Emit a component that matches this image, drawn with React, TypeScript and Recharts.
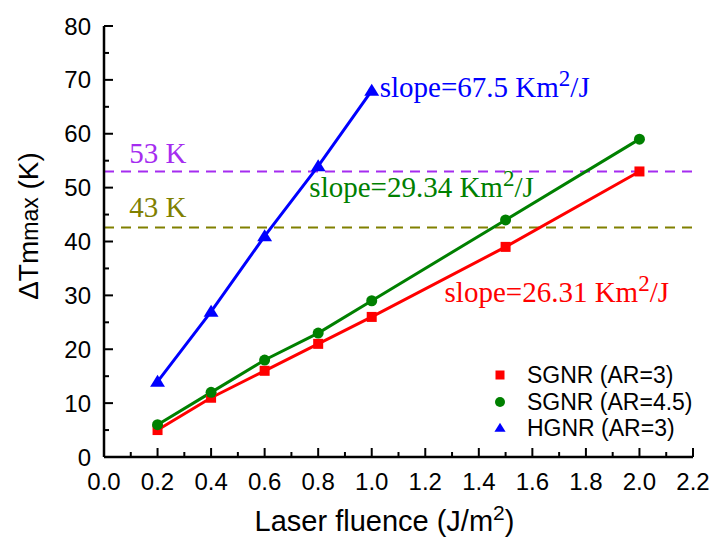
import React from 'react';
import {
  LineChart, Line, XAxis, YAxis, ReferenceLine, ReferenceDot,
} from 'recharts';

const SANS  = '"Liberation Sans", Arial, sans-serif';
const SERIF = '"Liberation Serif", "Times New Roman", serif';

// values
const SGNR3_X   = [0.2, 0.4, 0.6, 0.8, 1.0, 1.5, 2.0];
const SGNR3_Y   = [5, 11, 16, 21, 26, 39, 53];
const SGNR45_X  = [0.2, 0.4, 0.6, 0.8, 1.0, 1.5, 2.0];
const SGNR45_Y  = [6, 12, 18, 23, 29, 44, 59];
const HGNR_X    = [0.2, 0.4, 0.6, 0.8, 1.0];
const HGNR_Y    = [14, 27, 41, 54, 68];

const X_TICKS = [0, 0.1, 0.2, 0.3, 0.4, 0.5, 0.6, 0.7, 0.8, 0.9, 1.0, 1.1, 1.2, 1.3, 1.4, 1.5, 1.6, 1.7, 1.8, 1.9, 2.0, 2.1, 2.2];
const Y_TICKS = [0, 5, 10, 15, 20, 25, 30, 35, 40, 45, 50, 55, 60, 65, 70, 75, 80];

const LIMITS = [
  { y: 53,   label: '53 K', color: '#a52cf0', lx: 0.094, ly: 54.5 },
  { y: 42.6, label: '43 K', color: '#808000', lx: 0.094, ly: 44.5 },
];

const SLOPES = [
  { value: '67.5',  color: '#0000ff', x: 1.03,  y: 66.8 },
  { value: '29.34', color: '#008000', x: 0.767, y: 48.2 },
  { value: '26.31', color: '#ff0000', x: 1.272, y: 28.8 },
];

const zip = (xs: number[], ys: number[]) => xs.map((x, i) => ({ x, y: ys[i] }));

const SERIES = [
  { name: 'SGNR (AR=3)',   color: '#ff0000', shape: 'square',   data: zip(SGNR3_X, SGNR3_Y) },
  { name: 'SGNR (AR=4.5)', color: '#008000', shape: 'circle',   data: zip(SGNR45_X, SGNR45_Y) },
  { name: 'HGNR (AR=3)',   color: '#0000ff', shape: 'triangle', data: zip(HGNR_X, HGNR_Y) },
];

function Marker({ shape, cx, cy, color, s }: { shape: string; cx: number; cy: number; color: string; s: number }) {
  if (shape === 'square') return <rect x={cx - s / 2} y={cy - s / 2} width={s} height={s} fill={color} />;
  if (shape === 'circle') return <circle cx={cx} cy={cy} r={s / 2 + 0.5} fill={color} />;
  const h = s * 0.95;
  return <polygon points={`${cx},${cy - h * 0.6} ${cx + s * 0.62},${cy + h * 0.45} ${cx - s * 0.62},${cy + h * 0.45}`} fill={color} />;
}

function XTick({ x, y, payload }: any) {
  const v = payload.value;
  const major = Math.round(v * 10) % 2 === 0;
  return (
    <g>
      <line x1={x} x2={x} y1={y} y2={y - (major ? 9 : 5)} stroke="#000" strokeWidth={2} />
      {major && (
        <text x={x} y={y + 33} textAnchor="middle" fontFamily={SANS} fontSize={24} fill="#000">
          {v.toFixed(1)}
        </text>
      )}
    </g>
  );
}

function YTick({ x, y, payload }: any) {
  const v = payload.value;
  const major = v % 10 === 0;
  return (
    <g>
      <line x1={x} x2={x + (major ? 9 : 5)} y1={y} y2={y} stroke="#000" strokeWidth={2} />
      {major && (
        <text x={x - 13} y={y + 8.5} textAnchor="end" fontFamily={SANS} fontSize={24} fill="#000">
          {v}
        </text>
      )}
    </g>
  );
}

function LegendBox() {
  return (
    <div style={{ position: 'absolute', left: 490, top: 362, fontFamily: SANS, fontSize: 23, lineHeight: '26.5px', color: '#000' }}>
      {SERIES.map(s => (
        <div key={s.name} style={{ display: 'flex', alignItems: 'center', whiteSpace: 'nowrap' }}>
          <svg width={37} height={26} style={{ flex: 'none' }}>
            <Marker shape={s.shape} cx={10} cy={13} color={s.color} s={9} />
          </svg>
          <span>{s.name}</span>
        </div>
      ))}
    </div>
  );
}

export default function App() {
  return (
    <div style={{ position: 'absolute', left: 0, top: 0, width: 714, height: 537, background: '#fff' }}>
      <LineChart width={714} height={537} margin={{ top: 26, right: 21, left: 0, bottom: 0 }}>
        <XAxis
          xAxisId={0} type="number" dataKey="x" domain={[0, 2.2]} ticks={X_TICKS} interval={0}
          height={80} tickSize={0} tickMargin={0} tickLine={false} tick={<XTick />}
          axisLine={{ stroke: '#000', strokeWidth: 2.5 }}
          label={{
            content: ({ viewBox }: any) => (
              <text x={viewBox.x + viewBox.width / 2 - 14} y={531} textAnchor="middle" fontFamily={SANS} fontSize={29} fill="#000">
                Laser fluence (J/m<tspan dy={-11} fontSize={21}>2</tspan><tspan dy={11}>)</tspan>
              </text>
            ),
          }}
        />
        <XAxis xAxisId="top" orientation="top" type="number" domain={[0, 2.2]} height={0}
          tick={false} tickLine={false} axisLine={{ stroke: '#444', strokeWidth: 1.5 }} />
        <YAxis
          yAxisId={0} type="number" domain={[0, 80]} ticks={Y_TICKS} interval={0}
          width={104} tickSize={0} tickMargin={0} tickLine={false} tick={<YTick />}
          axisLine={{ stroke: '#000', strokeWidth: 2.5 }}
          label={{
            content: () => (
              <text transform="translate(38,226) rotate(-90)" textAnchor="middle" fontFamily={SANS} fontSize={28} fill="#000">
                ΔTm<tspan fontSize={23}>max</tspan> (K)
              </text>
            ),
          }}
        />
        <YAxis yAxisId="r" orientation="right" type="number" domain={[0, 80]} width={0}
          tick={false} tickLine={false} axisLine={{ stroke: '#444', strokeWidth: 1.5 }} />

        {LIMITS.map(l => (
          <ReferenceLine key={l.label} y={l.y} stroke={l.color} strokeWidth={2} strokeDasharray="10 7" />
        ))}
        {LIMITS.map(l => (
          <ReferenceDot key={'t' + l.label} x={l.lx} y={l.ly} r={0}
            shape={(p: any) => (
              <text x={p.cx} y={p.cy} fontFamily={SERIF} fontSize={29} fill={l.color}>{l.label}</text>
            )} />
        ))}

        {SERIES.map(s => (
          <Line key={s.name} data={s.data} dataKey="y" name={s.name} stroke={s.color} strokeWidth={3}
            isAnimationActive={false} legendType="none"
            dot={(p: any) => <Marker key={p.index} shape={s.shape} cx={p.cx} cy={p.cy} color={s.color} s={s.shape === 'triangle' ? 12 : 10} />}
            activeDot={false} />
        ))}

        {SLOPES.map(t => (
          <ReferenceDot key={t.value} x={t.x} y={t.y} r={0}
            shape={(p: any) => (
              <text x={p.cx} y={p.cy} fontFamily={SERIF} fontSize={29} fill={t.color}>
                slope={t.value} Km<tspan dy={-11} fontSize={23}>2</tspan><tspan dy={11}>/J</tspan>
              </text>
            )} />
        ))}
      </LineChart>
      <LegendBox />
    </div>
  );
}
